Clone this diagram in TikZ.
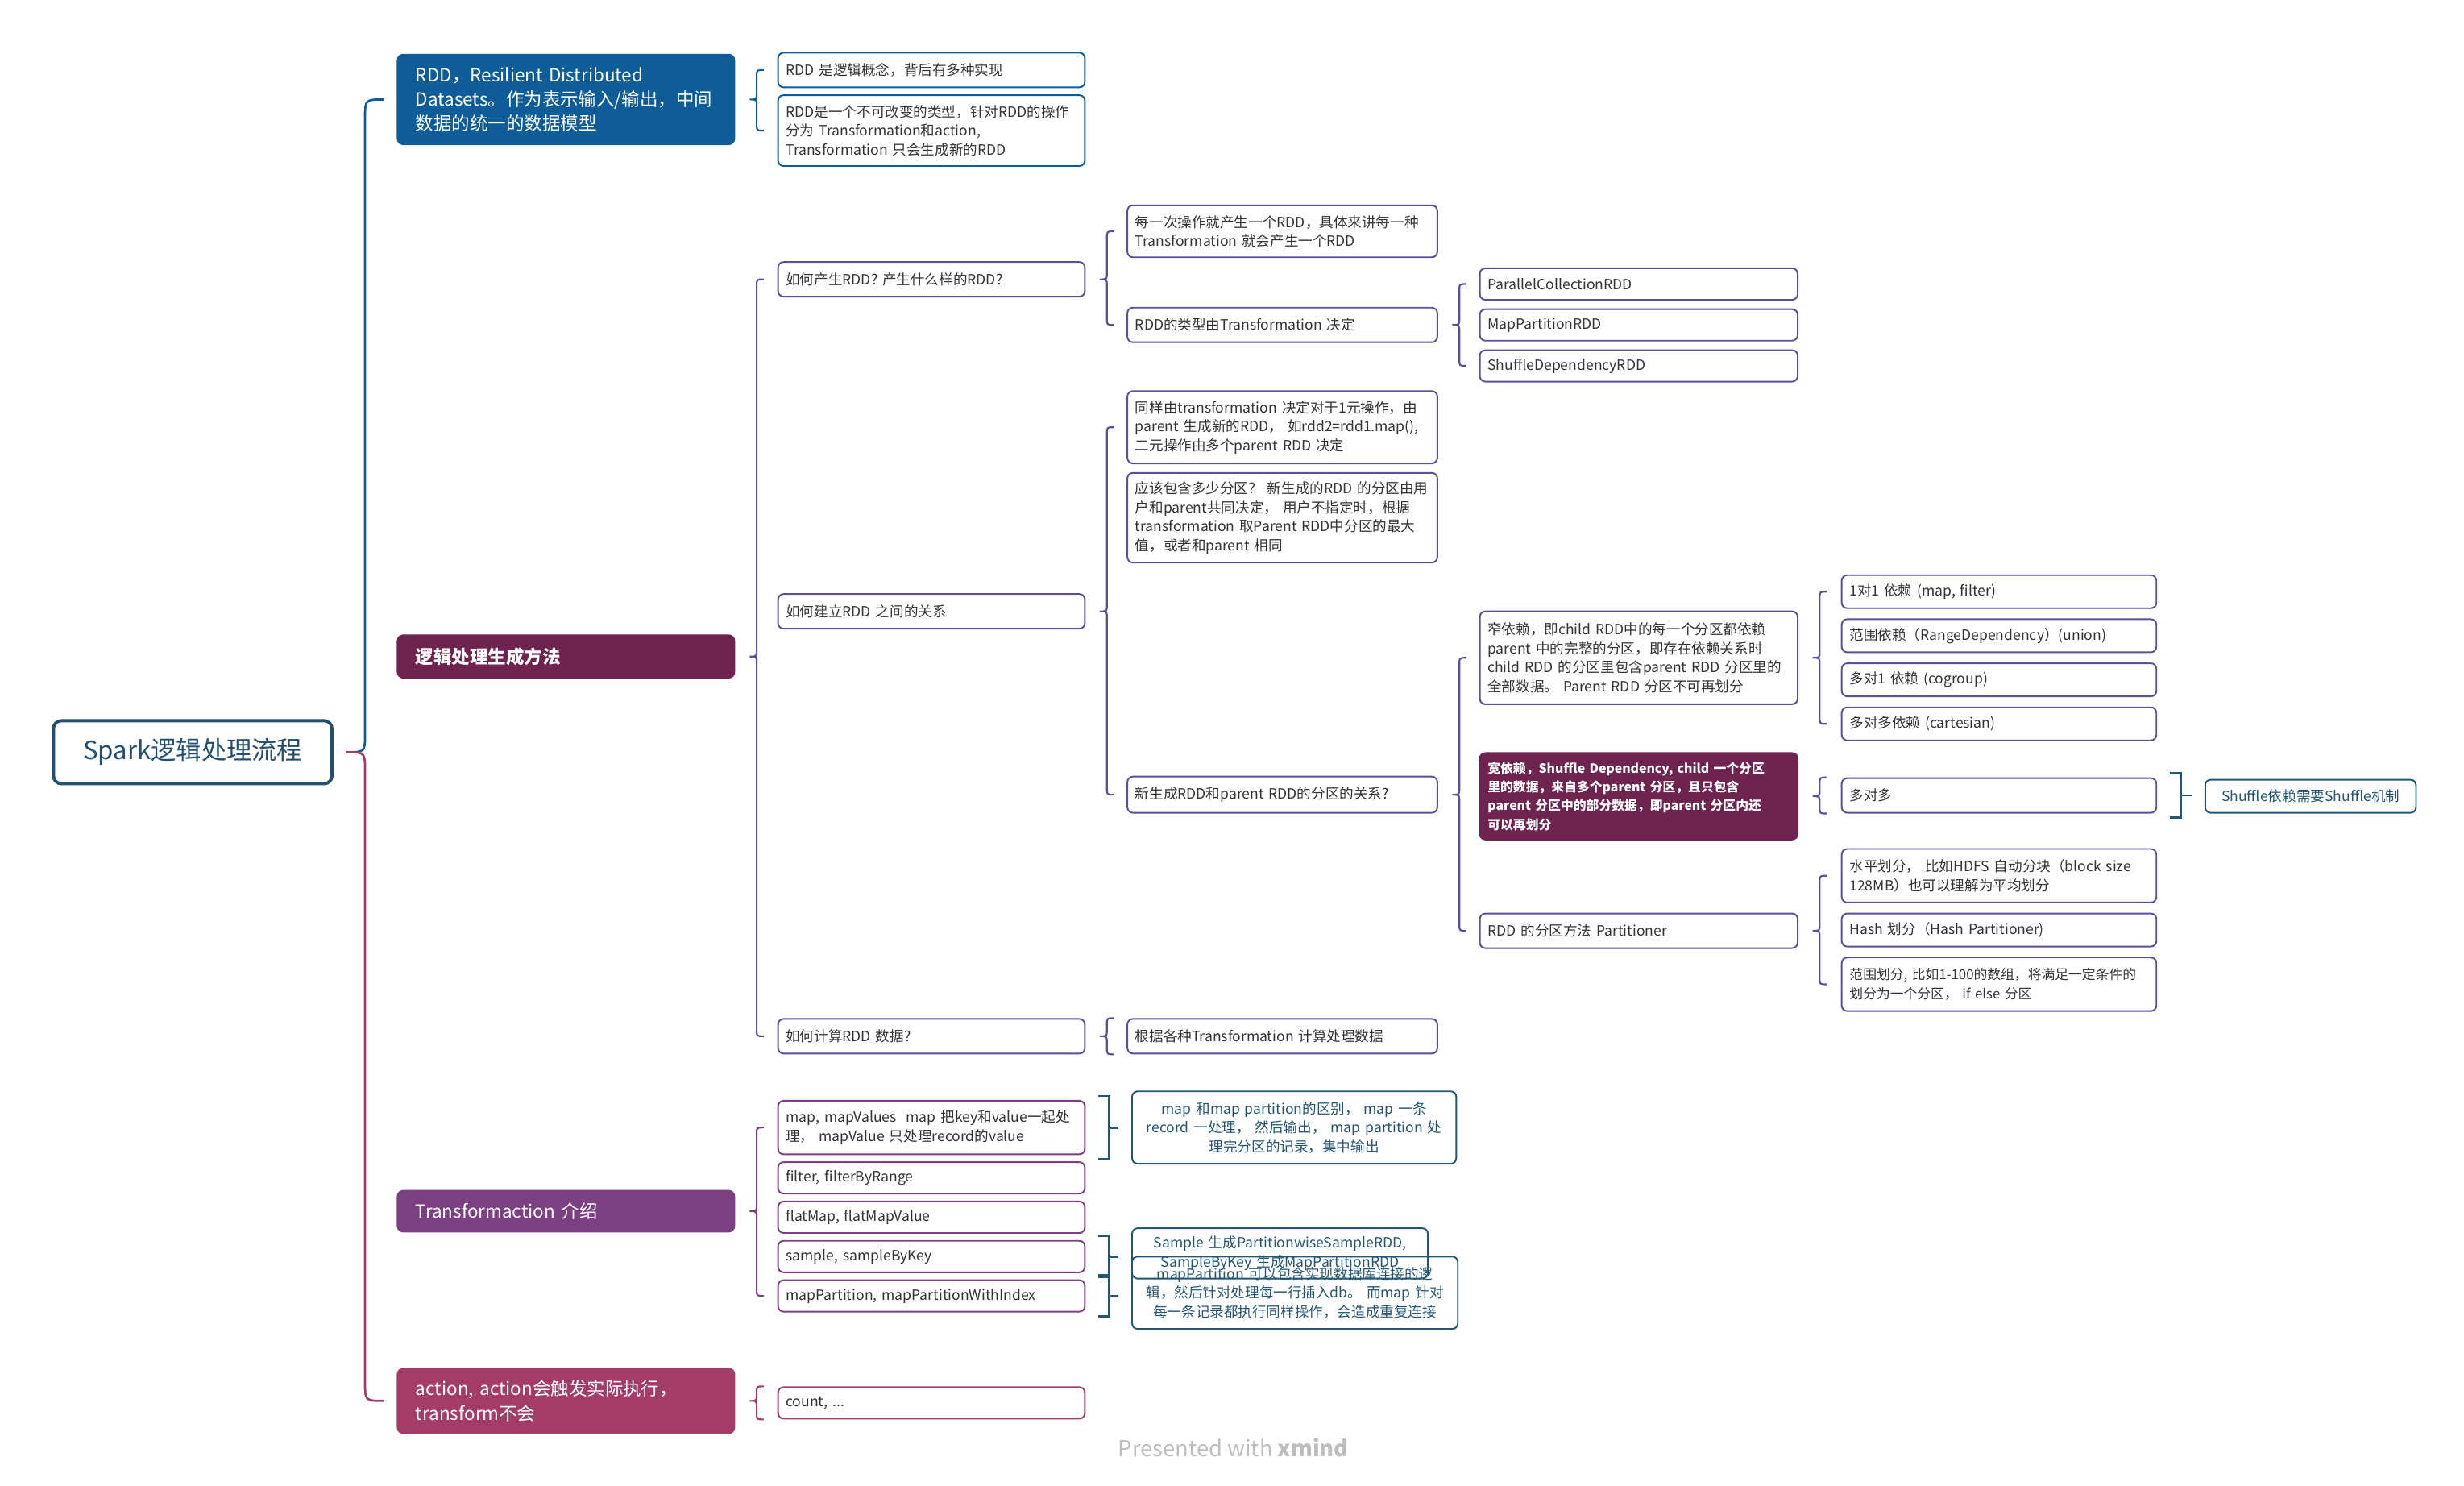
\documentclass[tikz,border=0pt]{standalone}
\usepackage{fontspec}
\setmainfont{Noto Sans CJK SC}
\usetikzlibrary{calc}

\definecolor{rootc}{HTML}{22506E}
\definecolor{rblue}{HTML}{0E5D99}
\definecolor{lmag}{HTML}{6E2350}
\definecolor{lind}{HTML}{5A4F98}
\definecolor{tpur}{HTML}{7B3F82}
\definecolor{acrim}{HTML}{A43C68}
\definecolor{sumc}{HTML}{245672}
\definecolor{txt}{HTML}{333333}
\definecolor{wmark}{HTML}{BDBDBD}

% brace: colour, parent, top anchor, bottom anchor
\newcommand{\brc}[4]{%
  \draw[#1, line width=1.1pt] let \p1=(#2.east), \p2=(#3), \p3=(#4) in
    (\x1+18pt,\y2) .. controls (\x1+13.5pt,\y2) .. (\x1+13.5pt,\y2-4pt)
    -- (\x1+13.5pt,\y1+4pt) .. controls (\x1+13.5pt,\y1) .. (\x1+9pt,\y1)
    .. controls (\x1+13.5pt,\y1) .. (\x1+13.5pt,\y1-4pt)
    -- (\x1+13.5pt,\y3+4pt) .. controls (\x1+13.5pt,\y3) .. (\x1+18pt,\y3);}
% summary bracket: first, last, summary
\newcommand{\smb}[3]{%
  \draw[sumc, line width=1.4pt] let \p1=(#1.north east), \p2=(#2.south east), \p3=(#3.west) in
    (\x1+8pt,\y1+2.5pt) -- (\x1+15pt,\y1+2.5pt) -- (\x1+15pt,\y2-2.5pt) -- (\x1+8pt,\y2-2.5pt)
    (\x1+15pt,{(\y1+\y2)/2}) -- (\x3-8pt,{(\y1+\y2)/2});}

\begin{document}
\begin{tikzpicture}[x=1pt, y=-1pt,
  root/.style={draw=rootc, line width=2pt, rounded corners=5pt, anchor=north west,
    minimum width=177pt, minimum height=40pt, inner sep=0pt, text=rootc,
    font=\fontsize{16}{18}\selectfont},
  topic/.style={rounded corners=4pt, anchor=north west, inner xsep=12pt, inner ysep=0pt,
    text width=191pt, align=left, text=white, font=\fontsize{11.5}{15.5}\selectfont},
  box/.style={draw, fill=white, rounded corners=3.5pt, line width=1pt, anchor=north west,
    inner xsep=5pt, inner ysep=0pt, align=left, text=txt, font=\fontsize{9}{12}\selectfont},
  sumbox/.style={box, draw=sumc, fill=none, text=sumc, align=center},
  l2/.style={text width=185pt},
  l3/.style={text width=187pt},
  l4/.style={text width=192pt},
  l5/.style={text width=190pt}]
\useasboundingbox (0,0) rectangle (1566,944);

\node[root] (spark) at (33,457) {Spark逻辑处理流程}; % root

\node[topic, fill=rblue, minimum height=58pt] (rdd) at (252,34) {RDD，Resilient Distributed\\Datasets。作为表示输入/输出，中间\\数据的统一的数据模型}; % rdd
\node[topic, fill=lmag, minimum height=28pt, font=\fontsize{11.5}{15.5}\selectfont\bfseries] (logic) at (252,403) {逻辑处理生成方法}; % logic
\node[topic, fill=tpur, minimum height=27pt] (trans) at (252,756) {Transformaction 介绍}; % trans
\node[topic, fill=acrim, minimum height=42pt] (action) at (252,869) {action, action会触发实际执行，\\transform不会}; % action

\node[box, l2, draw=rblue, minimum height=22pt] (rddA) at (494,33) {RDD 是逻辑概念，背后有多种实现};
\node[box, l2, draw=rblue, minimum height=45pt] (rddB) at (494,60) {RDD是一个不可改变的类型，针对RDD的操作\\分为 Transformation和action,\\Transformation 只会生成新的RDD};
\node[box, l2, draw=lind, minimum height=22pt] (howGen) at (494,166) {如何产生RDD? 产生什么样的RDD?};
\node[box, l2, draw=lind, minimum height=22pt] (howRel) at (494,377) {如何建立RDD 之间的关系};
\node[box, l2, draw=lind, minimum height=22pt] (howCalc) at (494,647) {如何计算RDD 数据?};
\node[box, l2, draw=tpur, minimum height=34pt] (tMap) at (494,699) {map, mapValues\ \ map 把key和value一起处\\理， mapValue 只处理record的value};
\node[box, l2, draw=tpur, minimum height=20pt] (tFilter) at (494,738) {filter, filterByRange};
\node[box, l2, draw=tpur, minimum height=20pt] (tFlat) at (494,763) {flatMap, flatMapValue};
\node[box, l2, draw=tpur, minimum height=20pt] (tSample) at (494,788) {sample, sampleByKey};
\node[box, l2, draw=tpur, minimum height=20pt] (tMapPart) at (494,813) {mapPartition, mapPartitionWithIndex};
\node[box, l2, draw=acrim, minimum height=20pt] (aCount) at (494,881) {count, ...};

\node[box, l3, draw=lind, minimum height=33pt] (genEach) at (716,130) {每一次操作就产生一个RDD，具体来讲每一种\\Transformation 就会产生一个RDD};
\node[box, l3, draw=lind, minimum height=22pt] (genType) at (716,195) {RDD的类型由Transformation 决定};
\node[box, l3, draw=lind, minimum height=46pt] (relSame) at (716,248) {同样由transformation 决定对于1元操作，由\\parent 生成新的RDD， 如rdd2=rdd1.map(),\\二元操作由多个parent RDD 决定};
\node[box, l3, draw=lind, minimum height=57pt] (relNum) at (716,300) {应该包含多少分区？ 新生成的RDD 的分区由用\\户和parent共同决定， 用户不指定时，根据\\transformation 取Parent RDD中分区的最大\\值，或者和parent 相同};
\node[box, l3, draw=lind, minimum height=23pt] (relPart) at (716,493) {新生成RDD和parent RDD的分区的关系?};
\node[box, l3, draw=lind, minimum height=22pt] (calcEach) at (716,647) {根据各种Transformation 计算处理数据};

\node[box, l4, draw=lind, minimum height=20pt] (typePar) at (940,170) {ParallelCollectionRDD};
\node[box, l4, draw=lind, minimum height=20pt] (typeMap) at (940,196) {MapPartitionRDD};
\node[box, l4, draw=lind, minimum height=20pt] (typeShuf) at (940,222) {ShuffleDependencyRDD};
\node[box, l4, draw=lind, minimum height=59pt] (narrow) at (940,388) {窄依赖，即child RDD中的每一个分区都依赖\\parent 中的完整的分区，即存在依赖关系时\\child RDD 的分区里包含parent RDD 分区里的\\全部数据。 Parent RDD 分区不可再划分};
\node[box, l4, draw=lmag, fill=lmag, text=white, minimum height=55pt, font=\fontsize{8.1}{12}\selectfont\bfseries] (wide) at (940,478) {\mbox{宽依赖，Shuffle Dependency, child 一个分区}\\\mbox{里的数据，来自多个parent 分区，且只包含}\\\mbox{parent 分区中的部分数据，即parent 分区内还}\\可以再划分};
\node[box, l4, draw=lind, minimum height=22pt] (partMeth) at (940,580) {RDD 的分区方法 Partitioner};

\node[box, l5, draw=lind, minimum height=21pt] (n11) at (1170,365) {1对1 依赖 (map, filter)};
\node[box, l5, draw=lind, minimum height=21pt] (nRange) at (1170,393) {范围依赖（RangeDependency）(union)};
\node[box, l5, draw=lind, minimum height=21pt] (nN1) at (1170,421) {多对1 依赖 (cogroup)};
\node[box, l5, draw=lind, minimum height=21pt] (nNN) at (1170,449) {多对多依赖 (cartesian)};
\node[box, l5, draw=lind, minimum height=22pt] (wNN) at (1170,494) {多对多};
\node[box, l5, draw=lind, minimum height=34pt] (pHor) at (1170,539) {水平划分， 比如HDFS 自动分块（block size\\128MB）也可以理解为平均划分};
\node[box, l5, draw=lind, minimum height=21pt] (pHash) at (1170,580) {Hash 划分（Hash Partitioner)};
\node[box, l5, draw=lind, minimum height=34pt, font=\fontsize{8.6}{12}\selectfont] (pRange) at (1170,608) {\mbox{范围划分, 比如1-100的数组，将满足一定条件的}\\划分为一个分区， if else 分区};

\node[sumbox, text width=124pt, minimum height=21pt] (shufSum) at (1401,495) {Shuffle依赖需要Shuffle机制};
\node[sumbox, text width=196pt, minimum height=46pt] (mapSum) at (719,693) {map 和map partition的区别， map 一条\\record 一处理， 然后输出， map partition 处\\理完分区的记录，集中输出};
\node[sumbox, text width=178pt, minimum height=32pt] (sampSum) at (719,780) {Sample 生成PartitionwiseSampleRDD,\\SampleByKey 生成MapPartitionRDD};
\node[sumbox, text width=197pt, minimum height=46pt] (mpSum) at (719,798) {mapPartition 可以包含实现数据库连接的逻\\辑，然后针对处理每一行插入db。 而map 针对\\每一条记录都执行同样操作，会造成重复连接};

% root brace
\draw[rblue, line width=1.4pt] let \p1=(spark.east), \p2=(rdd.west) in
  (\x1+8pt,\y1) .. controls (\x1+20pt,\y1) .. (\x1+20pt,\y1+12pt)
  -- (\x1+20pt,\y2-12pt) .. controls (\x1+20pt,\y2) .. (\x1+32pt,\y2);
\draw[acrim, line width=1.4pt] let \p1=(spark.east), \p2=(action.west) in
  (\x1+8pt,\y1) .. controls (\x1+20pt,\y1) .. (\x1+20pt,\y1-12pt)
  -- (\x1+20pt,\y2+12pt) .. controls (\x1+20pt,\y2) .. (\x1+32pt,\y2);

\brc{rblue}{rdd}{rddA.west}{rddB.west}
\brc{lind}{logic}{howGen.west}{howCalc.west}
\brc{tpur}{trans}{tMap.west}{tMapPart.west}
\brc{acrim}{action}{aCount.north west}{aCount.south west}
\brc{lind}{howGen}{genEach.west}{genType.west}
\brc{lind}{howRel}{relSame.west}{relPart.west}
\brc{lind}{howCalc}{calcEach.north west}{calcEach.south west}
\brc{lind}{genType}{typePar.west}{typeShuf.west}
\brc{lind}{relPart}{narrow.west}{partMeth.west}
\brc{lind}{narrow}{n11.west}{nNN.west}
\brc{lind}{wide}{wNN.north west}{wNN.south west}
\brc{lind}{partMeth}{pHor.west}{pRange.west}

\smb{wNN}{wNN}{shufSum}
\smb{tMap}{tMap}{mapSum}
\smb{tSample}{tSample}{sampSum}
\smb{tMapPart}{tMapPart}{mpSum}

\node[text=wmark, font=\fontsize{14}{16}\selectfont] (mark) at (784,920) {Presented with \textbf{xmind}};
\end{tikzpicture}
\end{document}
